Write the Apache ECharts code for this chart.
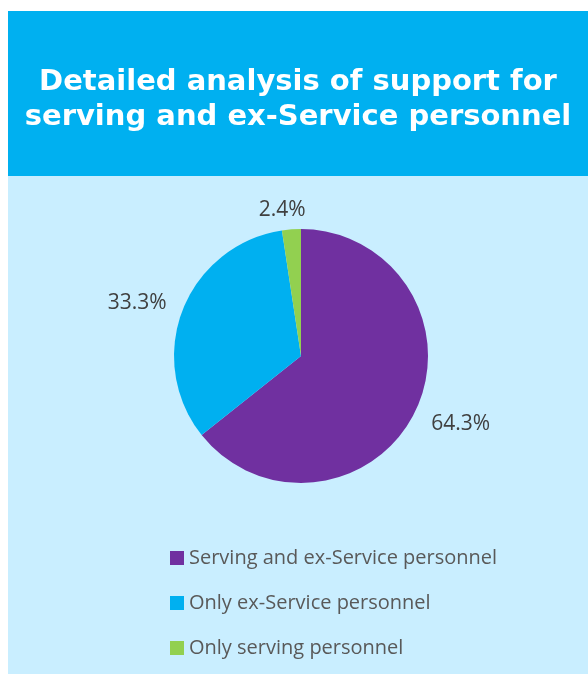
<!DOCTYPE html>
<html>
<head>
<meta charset="utf-8">
<script src="https://cdn.jsdelivr.net/npm/echarts@6/dist/echarts.min.js"></script>
<style>
html,body{margin:0;padding:0;background:#fff;}
#c{width:588px;height:674px;}
</style>
</head>
<body>
<div id="c"></div>
<script>
const titleLines = ['Detailed analysis of support for', 'serving and ex-Service personnel'];
const categories = ['Serving and ex-Service personnel', 'Only ex-Service personnel', 'Only serving personnel'];
const values = [64.3, 33.3, 2.4];
const colors = ['#7030A0', '#00B0F0', '#92D050'];
const labelOffsets = [[0, 8], [0, -2], [20, -7]];

const chart = echarts.init(document.getElementById('c'), null, {renderer: 'canvas'});
chart.setOption({
  animation: false,
  graphic: [
    {type: 'rect', shape: {x: 8, y: 11, width: 580, height: 663}, style: {fill: '#C9EEFF'}, z: -10},
    {type: 'rect', shape: {x: 8, y: 11, width: 580, height: 165}, style: {fill: '#00B0F0'}, z: -9},
    {type: 'text', x: 298, y: 100, style: {text: titleLines.join('\n'), fill: '#fff', font: 'bold 29px "DejaVu Sans"', align: 'center', verticalAlign: 'middle', lineHeight: 35}}
  ],
  legend: {
    orient: 'vertical',
    left: 165,
    top: 543,
    itemWidth: 14,
    itemHeight: 14,
    itemGap: 25,
    icon: 'rect',
    textStyle: {fontSize: 20, color: '#595959', fontFamily: 'Open Sans'},
    data: categories
  },
  series: [{
    type: 'pie',
    center: [301, 356],
    radius: [0, 127],
    startAngle: 90,
    clockwise: true,
    label: {
      show: true,
      position: 'outside',
      formatter: p => p.value.toFixed(1) + '%',
      fontSize: 21,
      color: '#404040',
      fontFamily: 'Open Sans'
    },
    labelLine: {show: false, length: 12, length2: 0},
    itemStyle: {borderWidth: 0},
    data: categories.map((n, i) => ({name: n, value: values[i], itemStyle: {color: colors[i]}, label: {offset: labelOffsets[i]}}))
  }]
});
</script>
</body>
</html>
